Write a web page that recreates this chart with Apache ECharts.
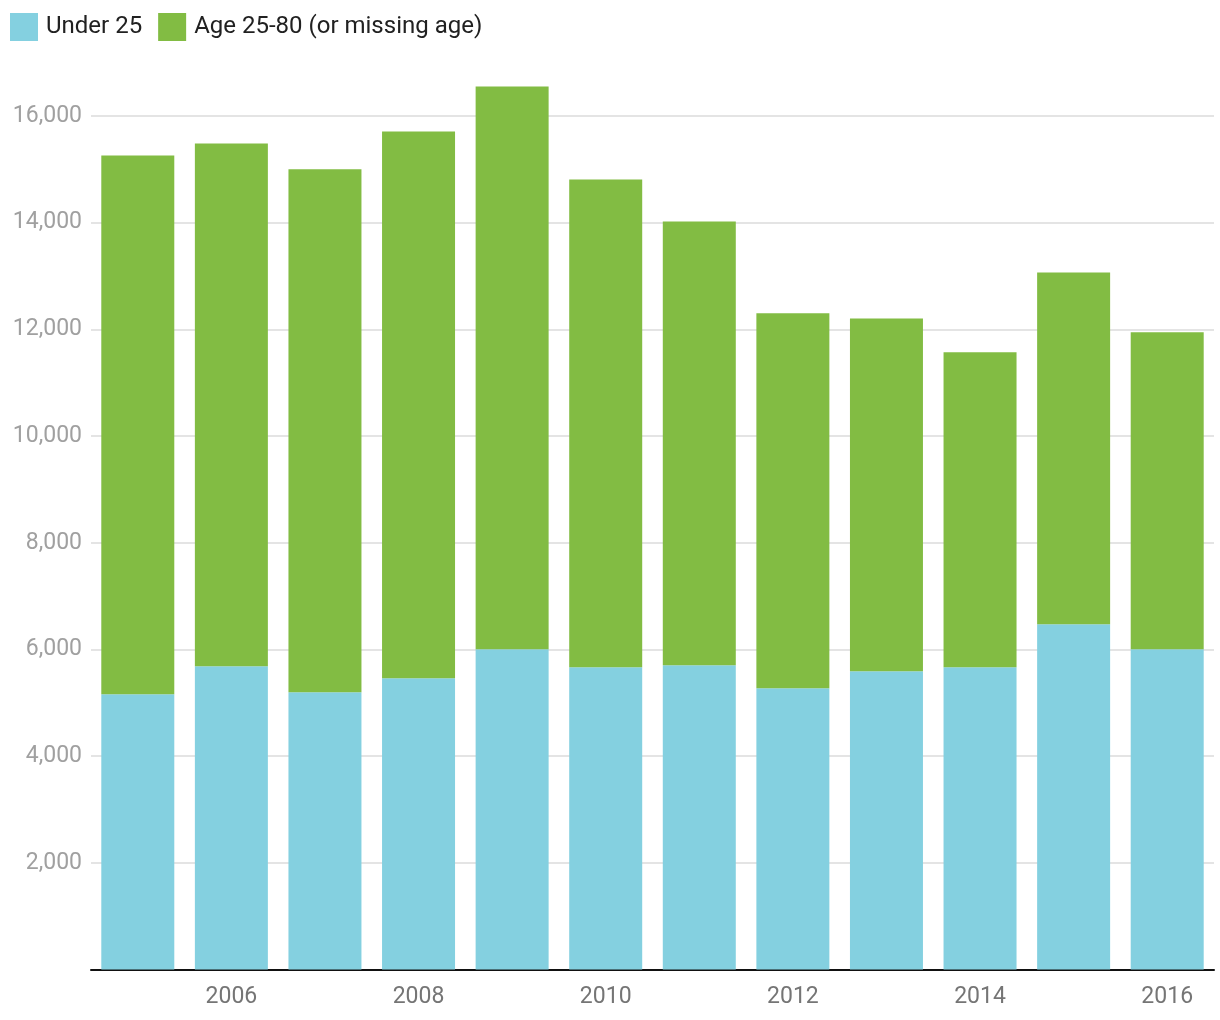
<!DOCTYPE html>
<html>
<head>
<meta charset="utf-8">
<script src="https://cdn.jsdelivr.net/npm/echarts@6/dist/echarts.min.js"></script>
<style>
html,body{margin:0;padding:0;background:#fff;}
#chart{width:1220px;height:1020px;}
</style>
</head>
<body>
<div id="chart"></div>
<script>
const years = ['2005','2006','2007','2008','2009','2010','2011','2012','2013','2014','2015','2016'];
const under25 = [5162, 5686, 5199, 5461, 6005, 5667, 5705, 5274, 5593, 5667, 6473, 6005];
const age25to80 = [10098, 9799, 9801, 10249, 10548, 9143, 8318, 7026, 6613, 5902, 6595, 5939];
const seriesNames = ['Under 25', 'Age 25-80 (or missing age)'];
const colors = ['#84d0e0', '#82bc43'];

const chart = echarts.init(document.getElementById('chart'), null, {renderer: 'canvas'});
chart.setOption({
  animation: false,
  color: colors,
  textStyle: {fontFamily: 'Roboto'},
  legend: {
    left: 10, top: 13,
    padding: 0,
    icon: 'rect',
    itemWidth: 28, itemHeight: 28,
    itemGap: 16,
    textStyle: {fontFamily: 'Roboto', fontSize: 24, color: '#212121', padding: [0, 0, 0, 3]},
    data: seriesNames
  },
  grid: {left: 91, right: 6, top: 116, bottom: 50.5, containLabel: false},
  xAxis: {
    type: 'category',
    data: years,
    axisLine: {show: true, lineStyle: {color: '#111', width: 2}},
    axisTick: {show: false},
    axisLabel: {
      interval: function (i) { return i % 2 === 1; },
      color: '#757575', fontSize: 23, fontFamily: 'Roboto', margin: 16
    }
  },
  yAxis: {
    type: 'value',
    min: 0, max: 16000, interval: 2000,
    axisLine: {show: false},
    axisTick: {show: false},
    splitLine: {show: true, lineStyle: {color: '#e4e4e4', width: 2}},
    axisLabel: {
      showMinLabel: false,
      color: '#a0a0a0', fontSize: 23, fontFamily: 'Roboto', margin: 9,
      formatter: function (v) { return v === 0 ? '' : v.toLocaleString('en-US'); }
    }
  },
  series: [
    {name: seriesNames[0], type: 'bar', stack: 'total', data: under25, barCategoryGap: '22%', clip: false, itemStyle: {color: colors[0]}},
    {name: seriesNames[1], type: 'bar', stack: 'total', data: age25to80, barCategoryGap: '22%', clip: false, itemStyle: {color: colors[1]}}
  ]
});
</script>
</body>
</html>
